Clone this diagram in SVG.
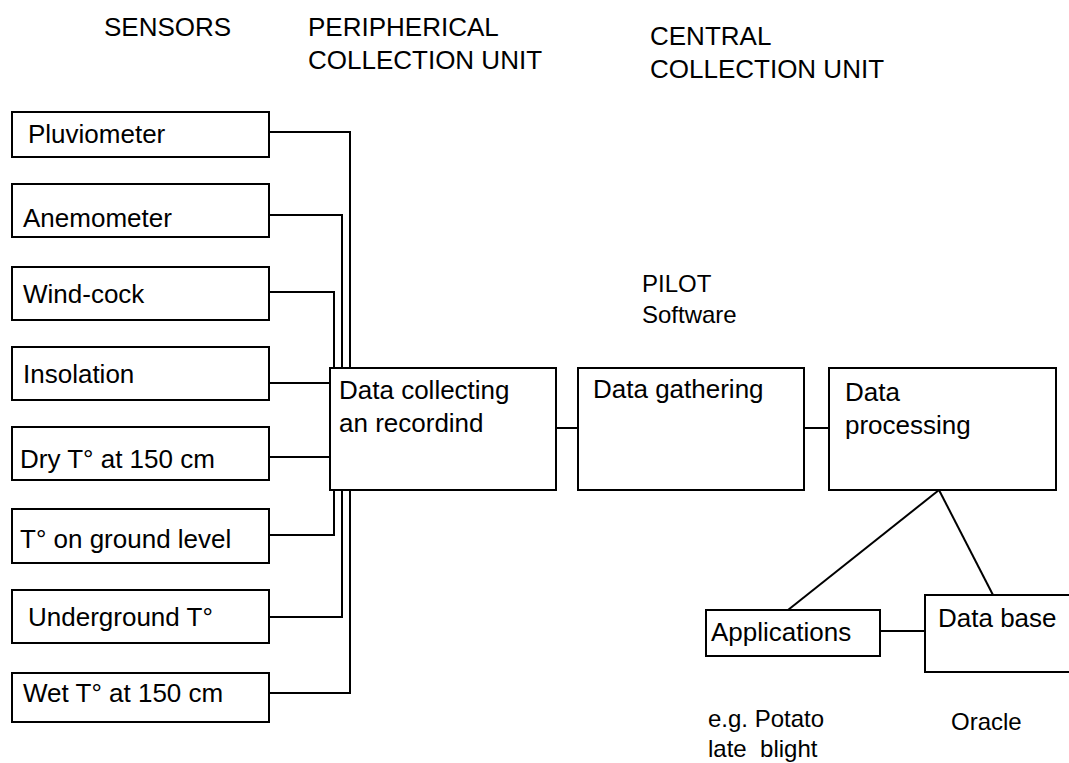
<svg xmlns="http://www.w3.org/2000/svg" width="1069" height="763" viewBox="0 0 1069 763">
<style>
text{font-family:"Liberation Sans",Arial,sans-serif;font-size:26px;fill:#000}
.s{font-size:24px}
.box{fill:#fff;stroke:#000;stroke-width:2}
.ln{fill:none;stroke:#000;stroke-width:2}
</style>
<rect width="1069" height="763" fill="#fff"/>
<g id="headers">
<text x="104" y="36">SENSORS</text>
<text x="308" y="36">PERIPHERICAL</text>
<text x="308" y="69">COLLECTION UNIT</text>
<text x="650" y="45">CENTRAL</text>
<text x="650" y="78">COLLECTION UNIT</text>
<text class="s" x="642" y="292">PILOT</text>
<text class="s" x="642" y="323">Software</text>
<text class="s" x="708" y="727">e.g. Potato</text>
<text class="s" x="708" y="757" xml:space="preserve">late  blight</text>
<text class="s" x="951" y="730">Oracle</text>
</g>
<g id="connectors">
<polyline class="ln" points="268,132 350,132 350,368"/>
<polyline class="ln" points="268,215 342,215 342,368"/>
<polyline class="ln" points="268,292 334,292 334,368"/>
<line class="ln" x1="268" y1="383" x2="330" y2="383"/>
<line class="ln" x1="268" y1="457" x2="330" y2="457"/>
<polyline class="ln" points="268,535 334,535 334,490"/>
<polyline class="ln" points="268,617 342,617 342,490"/>
<polyline class="ln" points="268,693 350,693 350,490"/>
<line class="ln" x1="556" y1="428" x2="578" y2="428"/>
<line class="ln" x1="804" y1="428" x2="829" y2="428"/>
<line class="ln" x1="939" y1="490" x2="788" y2="610"/>
<line class="ln" x1="939" y1="490" x2="993" y2="595"/>
<line class="ln" x1="873" y1="631" x2="925" y2="631"/>
</g>
<g id="pluviometer"><rect class="box" x="12" y="112" width="257" height="45"/><text x="28" y="143">Pluviometer</text></g>
<g id="anemometer"><rect class="box" x="12" y="184" width="257" height="53"/><text x="23" y="227">Anemometer</text></g>
<g id="windcock"><rect class="box" x="12" y="267" width="257" height="53"/><text x="23" y="303">Wind-cock</text></g>
<g id="insolation"><rect class="box" x="12" y="347" width="257" height="53"/><text x="23" y="383">Insolation</text></g>
<g id="dry"><rect class="box" x="12" y="427" width="257" height="53"/><text x="20" y="468">Dry T° at 150 cm</text></g>
<g id="ground"><rect class="box" x="12" y="509" width="257" height="54"/><text x="20" y="548">T° on ground level</text></g>
<g id="underground"><rect class="box" x="12" y="590" width="257" height="53"/><text x="28" y="626">Underground T°</text></g>
<g id="wet"><rect class="box" x="12" y="673" width="257" height="49"/><text x="23" y="702">Wet T° at 150 cm</text></g>
<g id="collecting"><rect class="box" x="330" y="368" width="226" height="122"/><text x="339" y="399">Data collecting</text><text x="339" y="432">an recordind</text></g>
<g id="gathering"><rect class="box" x="578" y="368" width="226" height="122"/><text x="593" y="398">Data gathering</text></g>
<g id="processing"><rect class="box" x="829" y="368" width="227" height="122"/><text x="845" y="401">Data</text><text x="845" y="434">processing</text></g>
<g id="applications"><rect class="box" x="706" y="610" width="174" height="46"/><text x="711" y="641">Applications</text></g>
<g id="database"><rect class="box" x="925" y="595" width="160" height="77"/><text x="938" y="627">Data base</text></g>
</svg>
